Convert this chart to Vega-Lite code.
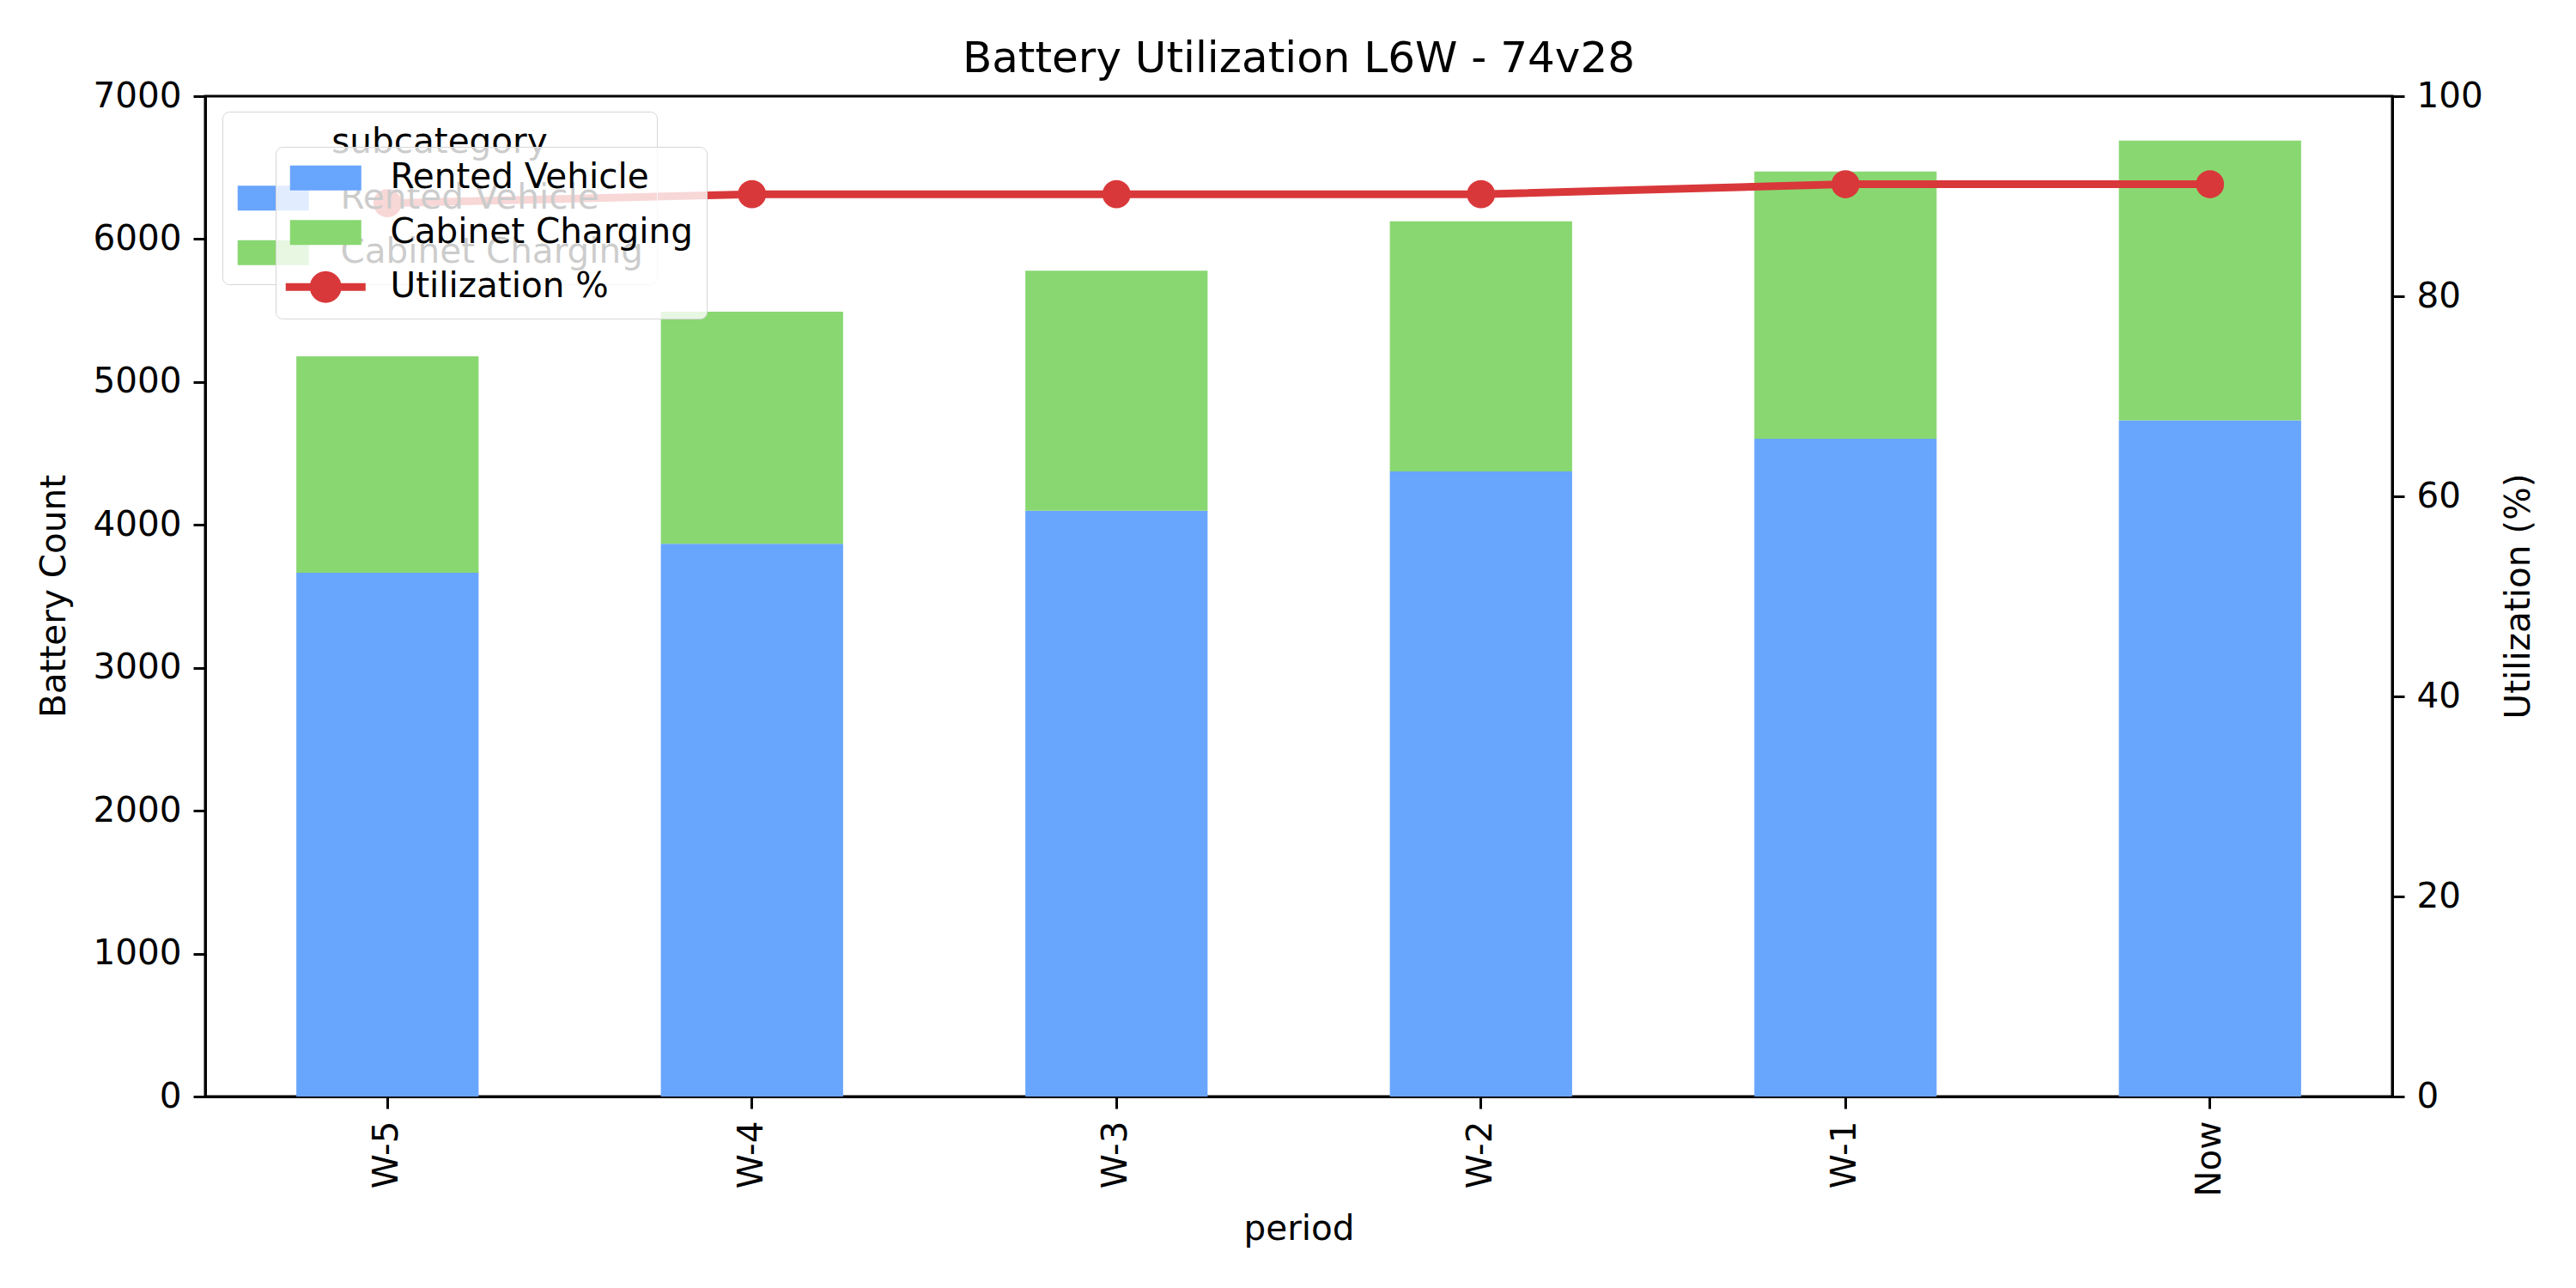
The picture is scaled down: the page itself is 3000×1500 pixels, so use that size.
{
  "$schema": "https://vega.github.io/schema/vega-lite/v6.json",
  "description": "Battery utilization, stacked bars with utilization line on a second axis.",
  "width": 2547,
  "height": 1165,
  "autosize": {"type": "none"},
  "padding": {"left": 239, "top": 112, "right": 214, "bottom": 223},
  "background": "white",
  "title": {
    "text": "Battery Utilization L6W - 74v28",
    "fontSize": 50,
    "fontWeight": "normal",
    "font": "DejaVu Sans",
    "color": "black",
    "anchor": "middle",
    "frame": "group",
    "baseline": "alphabetic",
    "offset": 27,
    "dy": 69
  },
  "encoding": {
    "x": {
      "field": "period",
      "type": "nominal",
      "sort": ["W-5", "W-4", "W-3", "W-2", "W-1", "Now"],
      "scale": {"paddingInner": 0.5, "paddingOuter": 0.25},
      "axis": {
        "title": "period",
        "labelAngle": -90,
        "labelAlign": "right",
        "labelBaseline": "middle",
        "titleY": 154,
        "titleBaseline": "middle"
      }
    }
  },
  "layer": [
    {
      "data": {
        "values": [
          {"period": "W-5", "subcategory": "Rented Vehicle", "count": 3665},
          {"period": "W-5", "subcategory": "Cabinet Charging", "count": 1515},
          {"period": "W-4", "subcategory": "Rented Vehicle", "count": 3868},
          {"period": "W-4", "subcategory": "Cabinet Charging", "count": 1624},
          {"period": "W-3", "subcategory": "Rented Vehicle", "count": 4099},
          {"period": "W-3", "subcategory": "Cabinet Charging", "count": 1680},
          {"period": "W-2", "subcategory": "Rented Vehicle", "count": 4375},
          {"period": "W-2", "subcategory": "Cabinet Charging", "count": 1750},
          {"period": "W-1", "subcategory": "Rented Vehicle", "count": 4603},
          {"period": "W-1", "subcategory": "Cabinet Charging", "count": 1869},
          {"period": "Now", "subcategory": "Rented Vehicle", "count": 4732},
          {"period": "Now", "subcategory": "Cabinet Charging", "count": 1957}
        ]
      },
      "mark": {"type": "bar"},
      "encoding": {
        "y": {
          "field": "count",
          "type": "quantitative",
          "stack": "zero",
          "scale": {"domain": [0, 7000], "nice": false},
          "axis": {
            "title": "Battery Count",
            "orient": "left",
            "format": "d",
            "values": [0, 1000, 2000, 3000, 4000, 5000, 6000, 7000],
            "titleX": -176,
            "titleY": 582,
            "titleAngle": -90,
            "titleAlign": "center",
            "titleBaseline": "middle"
          }
        },
        "color": {
          "field": "subcategory",
          "type": "nominal",
          "scale": {
            "domain": ["Rented Vehicle", "Cabinet Charging"],
            "range": ["#68a5fd", "#89d771"]
          },
          "legend": {
            "title": "subcategory",
            "orient": "none",
            "legendX": 20,
            "legendY": 18,
            "titleAnchor": "middle",
            "titleLimit": 0,
            "titlePadding": 24,
            "padding": 16,
            "rowPadding": 22.5,
            "symbolSize": 1600,
            "symbolStrokeWidth": 0,
            "symbolOffset": 23,
            "labelOffset": 58,
            "symbolType": "M-2.075,-0.725H2.075V0.725H-2.075Z",
            "fillColor": "rgba(255,255,255,0)",
            "strokeColor": "#d6d6d6",
            "cornerRadius": 8,
            "encode": {"legend": {"strokeWidth": {"value": 4}}}
          }
        },
        "order": {"field": "subcategory", "sort": "descending"}
      }
    },
    {
      "data": {
        "values": [
          {"period": "W-5", "series": "Utilization %", "utilization": 89.3},
          {"period": "W-4", "series": "Utilization %", "utilization": 90.2},
          {"period": "W-3", "series": "Utilization %", "utilization": 90.2},
          {"period": "W-2", "series": "Utilization %", "utilization": 90.2},
          {"period": "W-1", "series": "Utilization %", "utilization": 91.2},
          {"period": "Now", "series": "Utilization %", "utilization": 91.2}
        ]
      },
      "mark": {
        "type": "line",
        "strokeWidth": 9,
        "point": {"filled": true, "size": 1075}
      },
      "encoding": {
        "y": {
          "field": "utilization",
          "type": "quantitative",
          "scale": {"domain": [0, 100], "nice": false},
          "axis": {
            "title": "Utilization (%)",
            "orient": "right",
            "values": [0, 20, 40, 60, 80, 100],
            "titleX": 147,
            "titleY": 582,
            "titleAngle": -90,
            "titleAlign": "center",
            "titleBaseline": "middle"
          }
        },
        "color": {
          "field": "series",
          "type": "nominal",
          "scale": {
            "domain": ["Rented Vehicle", "Cabinet Charging", "Utilization %"],
            "range": ["#68a5fd", "#89d771", "#d9383a"]
          },
          "legend": {
            "title": null,
            "orient": "none",
            "legendX": 82,
            "legendY": 59,
            "padding": 16,
            "rowPadding": 22.5,
            "symbolSize": 1600,
            "symbolStrokeWidth": 0,
            "symbolOpacity": 1,
            "symbolOffset": 22,
            "labelOffset": 55,
            "symbolType": {"expr": "datum.value === 'Utilization %' ? 'M-2.325,-0.225H2.325V0.225H-2.325Z M-0.925,0A0.925,0.925 0 1,1 0.925,0A0.925,0.925 0 1,1 -0.925,0Z' : 'M-2.075,-0.725H2.075V0.725H-2.075Z'"},
            "symbolFillColor": {"expr": "datum.value === 'Rented Vehicle' ? '#68a5fd' : datum.value === 'Cabinet Charging' ? '#89d771' : '#d9383a'"},
            "fillColor": "rgba(255,255,255,0.8)",
            "strokeColor": "#d6d6d6",
            "cornerRadius": 8,
            "zindex": 1,
            "encode": {"legend": {"strokeWidth": {"value": 4}}}
          }
        }
      }
    }
  ],
  "resolve": {"scale": {"y": "independent", "color": "independent"}},
  "config": {
    "font": "DejaVu Sans",
    "view": {"stroke": "black", "strokeWidth": 3},
    "axis": {
      "grid": false,
      "domainColor": "black",
      "domainWidth": 3,
      "tickColor": "black",
      "tickWidth": 3,
      "tickSize": 14,
      "labelPadding": 14,
      "labelFontSize": 40.5,
      "labelColor": "black",
      "labelFont": "DejaVu Sans",
      "titleFontSize": 40.5,
      "titleFontWeight": "normal",
      "titleColor": "black",
      "titleFont": "DejaVu Sans"
    },
    "legend": {
      "labelFontSize": 40.5,
      "labelColor": "black",
      "labelFont": "DejaVu Sans",
      "titleFontSize": 40.5,
      "titleFontWeight": "normal",
      "titleColor": "black",
      "titleFont": "DejaVu Sans",
      "labelLimit": 0
    }
  }
}
